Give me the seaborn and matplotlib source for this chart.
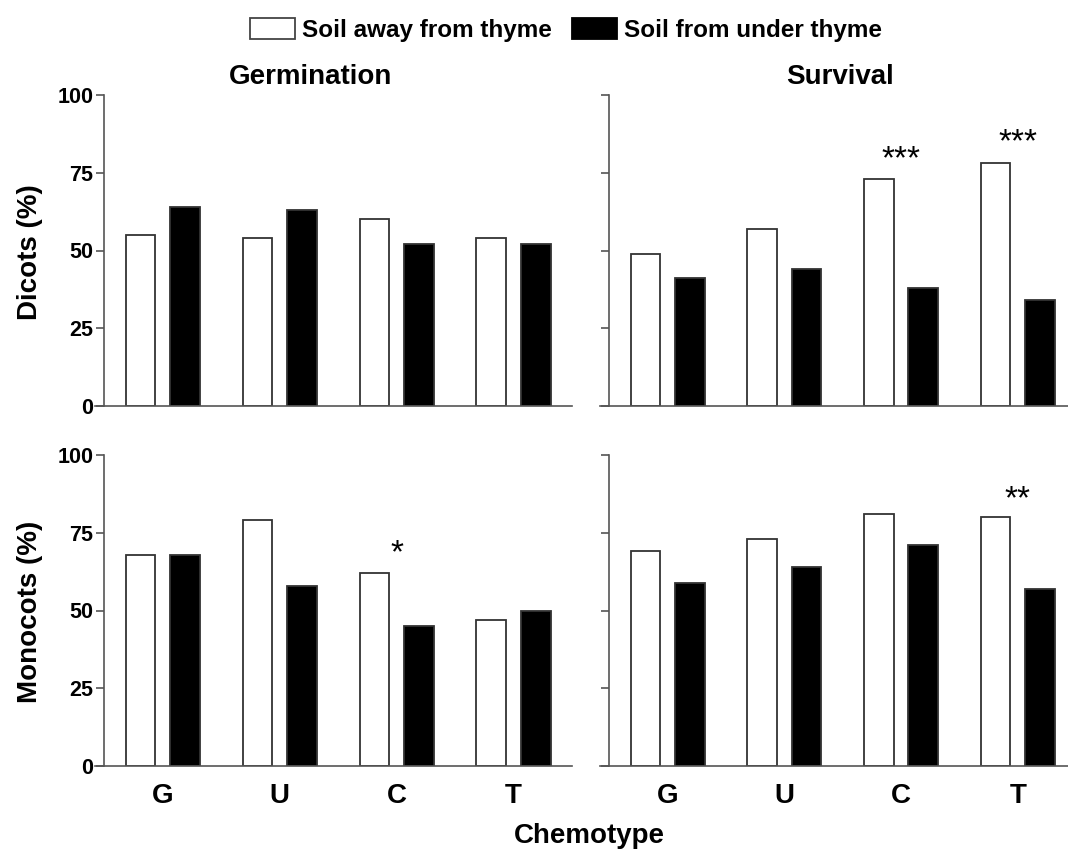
import numpy as np
import pandas as pd
import matplotlib
matplotlib.use("Agg")
import matplotlib.pyplot as plt
import seaborn as sns
from matplotlib.patches import Patch

# ---- data ----
chemotypes = ["G", "U", "C", "T"]
soil_labels = ["Soil away from thyme", "Soil from under thyme"]

germ_dicots_away = [55, 54, 60, 54]
germ_dicots_under = [64, 63, 52, 52]
surv_dicots_away = [49, 57, 73, 78]
surv_dicots_under = [41, 44, 38, 34]
germ_mono_away = [68, 79, 62, 47]
germ_mono_under = [68, 58, 45, 50]
surv_mono_away = [69, 73, 81, 80]
surv_mono_under = [59, 64, 71, 57]

# significance marks: (category, label, y)
surv_dicots_stars = [("C", "***", 82.5), ("T", "***", 88)]
germ_mono_stars = [("C", "*", 71.5)]
surv_mono_stars = [("T", "**", 89)]

yticks = [0, 25, 50, 75, 100]

sns.set_theme(style="white")
plt.rcParams["font.family"] = ["Liberation Sans", "DejaVu Sans"]
plt.rcParams["text.color"] = "black"
plt.rcParams["axes.labelcolor"] = "black"
plt.rcParams["xtick.color"] = "black"
plt.rcParams["ytick.color"] = "black"

W, H = 1068, 852
fig = plt.figure(figsize=(W / 100, H / 100), dpi=100)


def ax_at(x0, x1, y0, y1):
    return fig.add_axes([x0 / W, 1 - y1 / H, (x1 - x0) / W, (y1 - y0) / H])


spine_col = "#555555"

panels = [
    (ax_at(95, 572, 95, 406), germ_dicots_away, germ_dicots_under, [], True, False, (-0.58, 3.5)),
    (ax_at(600, 1068, 95, 406), surv_dicots_away, surv_dicots_under, surv_dicots_stars, False, False, (-0.58, 3.43)),
    (ax_at(95, 572, 455, 766), germ_mono_away, germ_mono_under, germ_mono_stars, True, True, (-0.58, 3.5)),
    (ax_at(600, 1068, 455, 766), surv_mono_away, surv_mono_under, surv_mono_stars, False, True, (-0.58, 3.43)),
]

for ax, away, under, stars, ylab, xlab, xlim in panels:
    df = pd.DataFrame({
        "Chemotype": chemotypes * 2,
        "Soil": [soil_labels[0]] * 4 + [soil_labels[1]] * 4,
        "Value": away + under,
    })
    sns.barplot(data=df, x="Chemotype", y="Value", hue="Soil", hue_order=soil_labels,
                order=chemotypes,
                palette={soil_labels[0]: "white", soil_labels[1]: "black"},
                saturation=1, width=0.76, gap=0.33, edgecolor="#333333",
                linewidth=1.3, errorbar=None, legend=False, ax=ax)
    ax.set_xlim(*xlim)
    ax.set_ylim(0, 100)
    ax.set_xlabel("")
    ax.set_ylabel("")
    for s in ["top", "right"]:
        ax.spines[s].set_visible(False)
    ax.spines["left"].set_position(("data", -0.5))
    for s in ["left", "bottom"]:
        ax.spines[s].set_color(spine_col)
        ax.spines[s].set_linewidth(1.2)
    ax.set_yticks(yticks)
    ax.tick_params(axis="y", left=True, direction="out", length=6, width=1.2,
                   color=spine_col, labelcolor="black", labelsize=15.5, pad=2,
                   labelleft=ylab)
    for t in ax.get_yticklabels():
        t.set_fontweight("bold")
    ax.tick_params(axis="x", bottom=False, length=0, pad=12, labelsize=20,
                   labelcolor="black", labelbottom=xlab)
    for t in ax.get_xticklabels():
        t.set_fontweight("bold")
    for cat, lab, y in stars:
        ax.annotate(lab, xy=(chemotypes.index(cat), y), xytext=(0, -13.5),
                    textcoords="offset points", ha="center", va="baseline",
                    fontsize=24, color="black")

# titles and labels
fig.text(311 / W, 1 - 77 / H, "Germination", ha="center", va="center",
         fontsize=20, fontweight="bold")
fig.text(840 / W, 1 - 77 / H, "Survival", ha="center", va="center",
         fontsize=20, fontweight="bold")
fig.text(30 / W, 1 - 252 / H, "Dicots (%)", ha="center", va="center",
         rotation=90, fontsize=20, fontweight="bold")
fig.text(30 / W, 1 - 612 / H, "Monocots (%)", ha="center", va="center",
         rotation=90, fontsize=20, fontweight="bold")
fig.text(589 / W, 1 - 836 / H, "Chemotype", ha="center", va="center",
         fontsize=20, fontweight="bold")

handles = [Patch(facecolor="white", edgecolor="#444444", linewidth=1.3, label=soil_labels[0]),
           Patch(facecolor="black", edgecolor="black", linewidth=1.3, label=soil_labels[1])]
fig.legend(handles=handles, loc="center", bbox_to_anchor=(566 / W, 1 - 30 / H),
           ncol=2, frameon=False, prop={"weight": "bold", "size": 17.5},
           handlelength=1.85, handleheight=0.95, handletextpad=0.28,
           columnspacing=0.85, borderpad=0)

fig.savefig("out.png", dpi=100)
